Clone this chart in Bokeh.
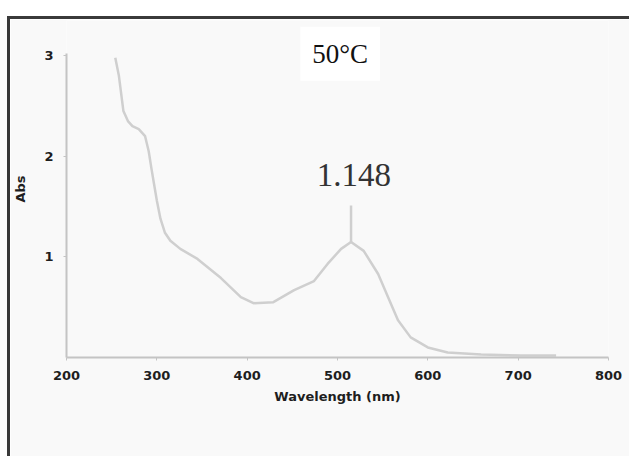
from bokeh.plotting import figure
from bokeh.models import ColumnDataSource, Label, FixedTicker, Range1d
from bokeh.embed import file_html
from bokeh.resources import INLINE

# data
wavelength = [254, 258, 263, 268, 273, 280, 287, 291, 294, 297, 300, 304, 309, 315,
              326, 345, 371, 393, 407, 429, 452, 474, 489, 504, 515, 529, 545, 556,
              567, 581, 600, 622, 659, 703, 742]
absorbance = [2.98, 2.80, 2.45, 2.35, 2.30, 2.27, 2.20, 2.05, 1.88, 1.72, 1.56, 1.38,
              1.24, 1.16, 1.08, 0.98, 0.79, 0.60, 0.54, 0.55, 0.67, 0.76, 0.93, 1.08,
              1.148, 1.06, 0.83, 0.60, 0.37, 0.20, 0.10, 0.05, 0.03, 0.02, 0.02]
x_ticks = [200, 300, 400, 500, 600, 700, 800]
y_ticks = [1, 2, 3]
peak_x = [515, 515]
peak_y = [1.148, 1.51]
peak_label = "1.148"
temp_label = "50°C"

bg = "#f9f9f9"
curve_col = "#cfcfcf"

p = figure(width=622, height=440, output_backend="svg", toolbar_location=None,
           x_range=Range1d(200, 800), y_range=Range1d(0, 3.35),
           min_border_left=56, min_border_right=24, min_border_top=1,
           min_border_bottom=102,
           background_fill_color=bg, border_fill_color=bg,
           outline_line_color=None, margin=(16, 0, 0, 7))
p.styles = {"border-top": "3px solid #3a3a3a", "border-left": "3px solid #3a3a3a"}

p.grid.visible = False

src = ColumnDataSource(dict(x=wavelength, y=absorbance))
p.line("x", "y", source=src, line_color=curve_col, line_width=2.5, line_join="round")
p.line(peak_x, peak_y, line_color=curve_col, line_width=2.5)

for ax in (p.xaxis[0], p.yaxis[0]):
    ax.axis_line_color = "#c4c4c4"
    ax.axis_line_width = 2
    ax.major_tick_line_color = "#c4c4c4"
    ax.major_tick_out = 3
    ax.major_tick_in = 0
    ax.minor_tick_line_color = None
    ax.major_label_text_font = "DejaVu Sans"
    ax.major_label_text_font_style = "bold"
    ax.major_label_text_font_size = "13px"
    ax.major_label_text_color = "#1e1e1e"
    ax.axis_label_text_font = "DejaVu Sans"
    ax.axis_label_text_font_style = "bold"
    ax.axis_label_text_font_size = "13px"
    ax.axis_label_text_color = "#1e1e1e"

p.yaxis[0].bounds = (0, 3.02)
p.xaxis[0].ticker = FixedTicker(ticks=x_ticks)
p.yaxis[0].ticker = FixedTicker(ticks=y_ticks)
p.xaxis[0].axis_label = "Wavelength (nm)"
p.yaxis[0].axis_label = "Abs"
p.xaxis[0].major_label_standoff = 10
p.xaxis[0].axis_label_standoff = 6
p.yaxis[0].major_label_standoff = 10
p.yaxis[0].axis_label_standoff = 13

p.add_layout(Label(x=518, y=1.70, text=peak_label, text_font="Liberation Serif",
                   text_font_size="33px", text_color="#333333", text_align="center",
                   text_baseline="bottom"))
p.add_layout(Label(x=503, y=3.02, text=temp_label, text_font="Liberation Serif",
                   text_font_size="27px", text_color="#111111", text_align="center",
                   text_baseline="middle", background_fill_color="white",
                   padding=12))

open("out.html", "w").write(file_html(p, INLINE))
